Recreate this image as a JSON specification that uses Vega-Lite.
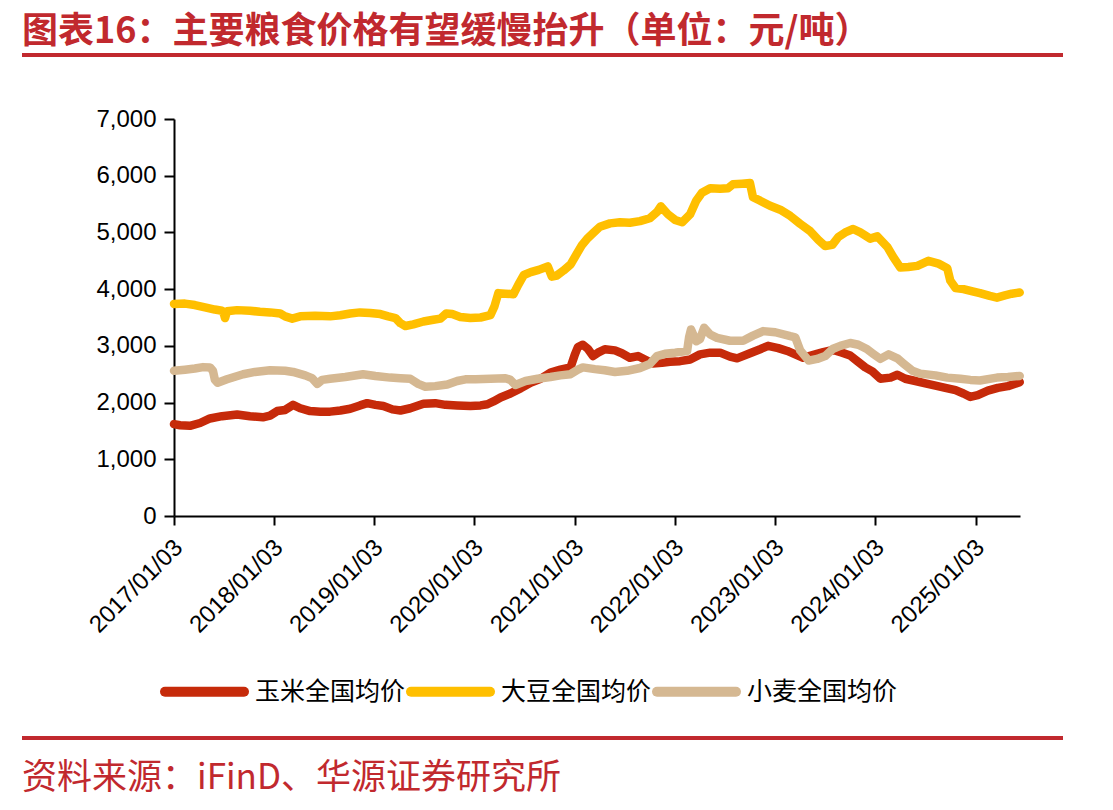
{
  "$schema": "https://vega.github.io/schema/vega-lite/v6.json",
  "background": "white",
  "padding": {"left": 22, "top": 14, "right": 50, "bottom": 14},
  "autosize": {"type": "pad"},
  "config": {
    "view": {"stroke": null},
    "font": "Liberation Sans",
    "axis": {"grid": false, "domainColor": "black", "domainWidth": 2, "tickColor": "black", "tickWidth": 2, "labelColor": "black", "labelFont": "Liberation Sans", "labelFontSize": 24, "title": null}
  },
  "spacing": 50,
  "vconcat": [
    {
      "width": 1041,
      "height": 4,
      "view": {"fill": "#C1292E", "stroke": null},
      "title": {"text": "图表16：主要粮食价格有望缓慢抬升（单位：元/吨）", "orient": "top", "anchor": "start", "frame": "group", "baseline": "bottom", "offset": -34, "font": "Noto Sans CJK SC", "fontSize": 36, "fontWeight": "bold", "color": "#C1292E"},
      "data": {"values": []},
      "mark": "point",
      "encoding": {}
    },
    {
      "spacing": 17,
      "vconcat": [
        {
          "hconcat": [
            {"width": 152, "height": 600, "data": {"values": []}, "mark": "point", "encoding": {}},
            {
              "width": 846,
              "height": 397,
              "data": {"values": [
                {"series": "玉米全国均价", "date": "2017-01-03", "price": 1620},
                {"series": "玉米全国均价", "date": "2017-01-25", "price": 1600},
                {"series": "玉米全国均价", "date": "2017-03-02", "price": 1590},
                {"series": "玉米全国均价", "date": "2017-04-08", "price": 1640},
                {"series": "玉米全国均价", "date": "2017-05-14", "price": 1720},
                {"series": "玉米全国均价", "date": "2017-06-27", "price": 1760},
                {"series": "玉米全国均价", "date": "2017-08-21", "price": 1790},
                {"series": "玉米全国均价", "date": "2017-10-07", "price": 1760},
                {"series": "玉米全国均价", "date": "2017-11-23", "price": 1740},
                {"series": "玉米全国均价", "date": "2017-12-19", "price": 1770},
                {"series": "玉米全国均价", "date": "2018-01-14", "price": 1850},
                {"series": "玉米全国均价", "date": "2018-02-12", "price": 1870},
                {"series": "玉米全国均价", "date": "2018-03-13", "price": 1960},
                {"series": "玉米全国均价", "date": "2018-04-08", "price": 1900},
                {"series": "玉米全国均价", "date": "2018-05-14", "price": 1850},
                {"series": "玉米全国均价", "date": "2018-06-20", "price": 1840},
                {"series": "玉米全国均价", "date": "2018-07-26", "price": 1840},
                {"series": "玉米全国均价", "date": "2018-09-01", "price": 1860},
                {"series": "玉米全国均价", "date": "2018-10-07", "price": 1890},
                {"series": "玉米全国均价", "date": "2018-11-12", "price": 1950},
                {"series": "玉米全国均价", "date": "2018-12-08", "price": 1990},
                {"series": "玉米全国均价", "date": "2019-01-07", "price": 1960},
                {"series": "玉米全国均价", "date": "2019-02-05", "price": 1940},
                {"series": "玉米全国均价", "date": "2019-03-10", "price": 1880},
                {"series": "玉米全国均价", "date": "2019-04-08", "price": 1860},
                {"series": "玉米全国均价", "date": "2019-05-14", "price": 1900},
                {"series": "玉米全国均价", "date": "2019-07-01", "price": 1980},
                {"series": "玉米全国均价", "date": "2019-08-13", "price": 1990},
                {"series": "玉米全国均价", "date": "2019-09-19", "price": 1960},
                {"series": "玉米全国均价", "date": "2019-11-01", "price": 1950},
                {"series": "玉米全国均价", "date": "2019-12-19", "price": 1940},
                {"series": "玉米全国均价", "date": "2020-01-25", "price": 1950},
                {"series": "玉米全国均价", "date": "2020-02-19", "price": 1970},
                {"series": "玉米全国均价", "date": "2020-03-12", "price": 2020},
                {"series": "玉米全国均价", "date": "2020-04-07", "price": 2090},
                {"series": "玉米全国均价", "date": "2020-05-13", "price": 2160},
                {"series": "玉米全国均价", "date": "2020-06-19", "price": 2250},
                {"series": "玉米全国均价", "date": "2020-07-25", "price": 2350},
                {"series": "玉米全国均价", "date": "2020-08-31", "price": 2420},
                {"series": "玉米全国均价", "date": "2020-10-06", "price": 2530},
                {"series": "玉米全国均价", "date": "2020-11-11", "price": 2580},
                {"series": "玉米全国均价", "date": "2020-12-18", "price": 2620},
                {"series": "玉米全国均价", "date": "2021-01-03", "price": 2850},
                {"series": "玉米全国均价", "date": "2021-01-14", "price": 2980},
                {"series": "玉米全国均价", "date": "2021-02-01", "price": 3020},
                {"series": "玉米全国均价", "date": "2021-02-19", "price": 2950},
                {"series": "玉米全国均价", "date": "2021-03-10", "price": 2820},
                {"series": "玉米全国均价", "date": "2021-03-28", "price": 2880},
                {"series": "玉米全国均价", "date": "2021-04-22", "price": 2940},
                {"series": "玉米全国均价", "date": "2021-05-29", "price": 2920},
                {"series": "玉米全国均价", "date": "2021-06-23", "price": 2870},
                {"series": "玉米全国均价", "date": "2021-07-22", "price": 2790},
                {"series": "玉米全国均价", "date": "2021-08-21", "price": 2820},
                {"series": "玉米全国均价", "date": "2021-09-15", "price": 2760},
                {"series": "玉米全国均价", "date": "2021-10-14", "price": 2690},
                {"series": "玉米全国均价", "date": "2021-11-16", "price": 2700},
                {"series": "玉米全国均价", "date": "2021-12-15", "price": 2720},
                {"series": "玉米全国均价", "date": "2022-01-21", "price": 2730},
                {"series": "玉米全国均价", "date": "2022-02-27", "price": 2760},
                {"series": "玉米全国均价", "date": "2022-04-04", "price": 2850},
                {"series": "玉米全国均价", "date": "2022-05-11", "price": 2880},
                {"series": "玉米全国均价", "date": "2022-06-16", "price": 2880},
                {"series": "玉米全国均价", "date": "2022-07-22", "price": 2810},
                {"series": "玉米全国均价", "date": "2022-08-17", "price": 2780},
                {"series": "玉米全国均价", "date": "2022-10-03", "price": 2870},
                {"series": "玉米全国均价", "date": "2022-11-09", "price": 2940},
                {"series": "玉米全国均价", "date": "2022-12-08", "price": 3000},
                {"series": "玉米全国均价", "date": "2023-01-14", "price": 2960},
                {"series": "玉米全国均价", "date": "2023-02-16", "price": 2910},
                {"series": "玉米全国均价", "date": "2023-03-17", "price": 2850},
                {"series": "玉米全国均价", "date": "2023-04-15", "price": 2790},
                {"series": "玉米全国均价", "date": "2023-05-22", "price": 2840},
                {"series": "玉米全国均价", "date": "2023-06-27", "price": 2890},
                {"series": "玉米全国均价", "date": "2023-08-02", "price": 2930},
                {"series": "玉米全国均价", "date": "2023-09-04", "price": 2880},
                {"series": "玉米全国均价", "date": "2023-10-03", "price": 2830},
                {"series": "玉米全国均价", "date": "2023-10-29", "price": 2730},
                {"series": "玉米全国均价", "date": "2023-11-27", "price": 2620},
                {"series": "玉米全国均价", "date": "2023-12-23", "price": 2550},
                {"series": "玉米全国均价", "date": "2024-01-21", "price": 2420},
                {"series": "玉米全国均价", "date": "2024-02-27", "price": 2440},
                {"series": "玉米全国均价", "date": "2024-03-23", "price": 2490},
                {"series": "玉米全国均价", "date": "2024-04-21", "price": 2420},
                {"series": "玉米全国均价", "date": "2024-05-28", "price": 2380},
                {"series": "玉米全国均价", "date": "2024-07-03", "price": 2340},
                {"series": "玉米全国均价", "date": "2024-08-09", "price": 2300},
                {"series": "玉米全国均价", "date": "2024-09-14", "price": 2260},
                {"series": "玉米全国均价", "date": "2024-10-21", "price": 2220},
                {"series": "玉米全国均价", "date": "2024-11-19", "price": 2160},
                {"series": "玉米全国均价", "date": "2024-12-14", "price": 2100},
                {"series": "玉米全国均价", "date": "2025-01-10", "price": 2130},
                {"series": "玉米全国均价", "date": "2025-02-16", "price": 2210},
                {"series": "玉米全国均价", "date": "2025-03-24", "price": 2260},
                {"series": "玉米全国均价", "date": "2025-04-30", "price": 2290},
                {"series": "玉米全国均价", "date": "2025-06-12", "price": 2360},
                {"series": "大豆全国均价", "date": "2017-01-03", "price": 3740},
                {"series": "大豆全国均价", "date": "2017-02-12", "price": 3745},
                {"series": "大豆全国均价", "date": "2017-03-20", "price": 3720},
                {"series": "大豆全国均价", "date": "2017-04-26", "price": 3680},
                {"series": "大豆全国均价", "date": "2017-06-01", "price": 3640},
                {"series": "大豆全国均价", "date": "2017-06-27", "price": 3620},
                {"series": "大豆全国均价", "date": "2017-07-04", "price": 3560},
                {"series": "大豆全国均价", "date": "2017-07-08", "price": 3490},
                {"series": "大豆全国均价", "date": "2017-07-15", "price": 3610},
                {"series": "大豆全国均价", "date": "2017-08-21", "price": 3630},
                {"series": "大豆全国均价", "date": "2017-10-07", "price": 3620},
                {"series": "大豆全国均价", "date": "2017-11-12", "price": 3600},
                {"series": "大豆全国均价", "date": "2017-12-19", "price": 3590},
                {"series": "大豆全国均价", "date": "2018-01-25", "price": 3570},
                {"series": "大豆全国均价", "date": "2018-02-12", "price": 3520},
                {"series": "大豆全国均价", "date": "2018-03-10", "price": 3480},
                {"series": "大豆全国均价", "date": "2018-04-08", "price": 3520},
                {"series": "大豆全国均价", "date": "2018-06-01", "price": 3530},
                {"series": "大豆全国均价", "date": "2018-07-26", "price": 3520},
                {"series": "大豆全国均价", "date": "2018-09-01", "price": 3540},
                {"series": "大豆全国均价", "date": "2018-10-07", "price": 3570},
                {"series": "大豆全国均价", "date": "2018-11-12", "price": 3590},
                {"series": "大豆全国均价", "date": "2018-12-19", "price": 3580},
                {"series": "大豆全国均价", "date": "2019-01-25", "price": 3560},
                {"series": "大豆全国均价", "date": "2019-02-23", "price": 3520},
                {"series": "大豆全国均价", "date": "2019-03-21", "price": 3490},
                {"series": "大豆全国均价", "date": "2019-04-08", "price": 3400},
                {"series": "大豆全国均价", "date": "2019-04-26", "price": 3350},
                {"series": "大豆全国均价", "date": "2019-05-25", "price": 3380},
                {"series": "大豆全国均价", "date": "2019-07-01", "price": 3430},
                {"series": "大豆全国均价", "date": "2019-08-06", "price": 3460},
                {"series": "大豆全国均价", "date": "2019-09-01", "price": 3480},
                {"series": "大豆全国均价", "date": "2019-09-22", "price": 3570},
                {"series": "大豆全国均价", "date": "2019-10-14", "price": 3560},
                {"series": "大豆全国均价", "date": "2019-11-12", "price": 3510},
                {"series": "大豆全国均价", "date": "2019-12-19", "price": 3490},
                {"series": "大豆全国均价", "date": "2020-01-25", "price": 3500},
                {"series": "大豆全国均价", "date": "2020-03-01", "price": 3540},
                {"series": "大豆全国均价", "date": "2020-03-16", "price": 3700},
                {"series": "大豆全国均价", "date": "2020-03-30", "price": 3930},
                {"series": "大豆全国均价", "date": "2020-04-25", "price": 3920},
                {"series": "大豆全国均价", "date": "2020-05-24", "price": 3910},
                {"series": "大豆全国均价", "date": "2020-06-11", "price": 4080},
                {"series": "大豆全国均价", "date": "2020-07-01", "price": 4250},
                {"series": "大豆全国均价", "date": "2020-07-26", "price": 4300},
                {"series": "大豆全国均价", "date": "2020-08-24", "price": 4340},
                {"series": "大豆全国均价", "date": "2020-09-26", "price": 4400},
                {"series": "大豆全国均价", "date": "2020-10-11", "price": 4220},
                {"series": "大豆全国均价", "date": "2020-10-29", "price": 4240},
                {"series": "大豆全国均价", "date": "2020-11-23", "price": 4330},
                {"series": "大豆全国均价", "date": "2020-12-19", "price": 4440},
                {"series": "大豆全国均价", "date": "2021-01-07", "price": 4600},
                {"series": "大豆全国均价", "date": "2021-01-29", "price": 4780},
                {"series": "大豆全国均价", "date": "2021-02-19", "price": 4900},
                {"series": "大豆全国均价", "date": "2021-03-13", "price": 5000},
                {"series": "大豆全国均价", "date": "2021-04-04", "price": 5100},
                {"series": "大豆全国均价", "date": "2021-05-11", "price": 5160},
                {"series": "大豆全国均价", "date": "2021-06-16", "price": 5180},
                {"series": "大豆全国均价", "date": "2021-07-22", "price": 5170},
                {"series": "大豆全国均价", "date": "2021-08-28", "price": 5200},
                {"series": "大豆全国均价", "date": "2021-10-03", "price": 5250},
                {"series": "大豆全国均价", "date": "2021-10-29", "price": 5360},
                {"series": "大豆全国均价", "date": "2021-11-12", "price": 5460},
                {"series": "大豆全国均价", "date": "2021-12-08", "price": 5320},
                {"series": "大豆全国均价", "date": "2022-01-03", "price": 5220},
                {"series": "大豆全国均价", "date": "2022-01-29", "price": 5180},
                {"series": "大豆全国均价", "date": "2022-02-27", "price": 5320},
                {"series": "大豆全国均价", "date": "2022-03-21", "price": 5560},
                {"series": "大豆全国均价", "date": "2022-04-11", "price": 5700},
                {"series": "大豆全国均价", "date": "2022-05-11", "price": 5780},
                {"series": "大豆全国均价", "date": "2022-06-16", "price": 5770},
                {"series": "大豆全国均价", "date": "2022-07-15", "price": 5780},
                {"series": "大豆全国均价", "date": "2022-08-02", "price": 5850},
                {"series": "大豆全国均价", "date": "2022-09-04", "price": 5860},
                {"series": "大豆全国均价", "date": "2022-10-03", "price": 5870},
                {"series": "大豆全国均价", "date": "2022-10-14", "price": 5620},
                {"series": "大豆全国均价", "date": "2022-11-09", "price": 5560},
                {"series": "大豆全国均价", "date": "2022-12-15", "price": 5470},
                {"series": "大豆全国均价", "date": "2023-01-21", "price": 5400},
                {"series": "大豆全国均价", "date": "2023-02-27", "price": 5290},
                {"series": "大豆全国均价", "date": "2023-04-04", "price": 5150},
                {"series": "大豆全国均价", "date": "2023-05-11", "price": 5020},
                {"series": "大豆全国均价", "date": "2023-06-09", "price": 4870},
                {"series": "大豆全国均价", "date": "2023-07-04", "price": 4760},
                {"series": "大豆全国均价", "date": "2023-07-30", "price": 4780},
                {"series": "大豆全国均价", "date": "2023-08-21", "price": 4920},
                {"series": "大豆全国均价", "date": "2023-09-15", "price": 5000},
                {"series": "大豆全国均价", "date": "2023-10-14", "price": 5060},
                {"series": "大豆全国均价", "date": "2023-11-09", "price": 5000},
                {"series": "大豆全国均价", "date": "2023-12-15", "price": 4890},
                {"series": "大豆全国均价", "date": "2024-01-10", "price": 4930},
                {"series": "大豆全国均价", "date": "2024-02-16", "price": 4740},
                {"series": "大豆全国均价", "date": "2024-03-09", "price": 4560},
                {"series": "大豆全国均价", "date": "2024-04-03", "price": 4380},
                {"series": "大豆全国均价", "date": "2024-05-02", "price": 4390},
                {"series": "大豆全国均价", "date": "2024-06-04", "price": 4410},
                {"series": "大豆全国均价", "date": "2024-07-14", "price": 4500},
                {"series": "大豆全国均价", "date": "2024-08-20", "price": 4450},
                {"series": "大豆全国均价", "date": "2024-09-21", "price": 4370},
                {"series": "大豆全国均价", "date": "2024-10-02", "price": 4150},
                {"series": "大豆全国均价", "date": "2024-10-21", "price": 4020},
                {"series": "大豆全国均价", "date": "2024-11-19", "price": 4000},
                {"series": "大豆全国均价", "date": "2024-12-22", "price": 3960},
                {"series": "大豆全国均价", "date": "2025-01-18", "price": 3930},
                {"series": "大豆全国均价", "date": "2025-02-23", "price": 3880},
                {"series": "大豆全国均价", "date": "2025-03-21", "price": 3850},
                {"series": "大豆全国均价", "date": "2025-04-19", "price": 3890},
                {"series": "大豆全国均价", "date": "2025-05-14", "price": 3920},
                {"series": "大豆全国均价", "date": "2025-06-12", "price": 3940},
                {"series": "小麦全国均价", "date": "2017-01-03", "price": 2560},
                {"series": "小麦全国均价", "date": "2017-02-12", "price": 2580},
                {"series": "小麦全国均价", "date": "2017-03-20", "price": 2600},
                {"series": "小麦全国均价", "date": "2017-04-19", "price": 2625},
                {"series": "小麦全国均价", "date": "2017-05-14", "price": 2620},
                {"series": "小麦全国均价", "date": "2017-05-25", "price": 2560},
                {"series": "小麦全国均价", "date": "2017-06-01", "price": 2400},
                {"series": "小麦全国均价", "date": "2017-06-11", "price": 2350},
                {"series": "小麦全国均价", "date": "2017-07-15", "price": 2410},
                {"series": "小麦全国均价", "date": "2017-09-12", "price": 2500},
                {"series": "小麦全国均价", "date": "2017-10-25", "price": 2540},
                {"series": "小麦全国均价", "date": "2017-12-19", "price": 2570},
                {"series": "小麦全国均价", "date": "2018-02-12", "price": 2560},
                {"series": "小麦全国均价", "date": "2018-03-13", "price": 2540},
                {"series": "小麦全国均价", "date": "2018-04-26", "price": 2480},
                {"series": "小麦全国均价", "date": "2018-05-21", "price": 2430},
                {"series": "小麦全国均价", "date": "2018-06-09", "price": 2330},
                {"series": "小麦全国均价", "date": "2018-06-27", "price": 2400},
                {"series": "小麦全国均价", "date": "2018-07-26", "price": 2420},
                {"series": "小麦全国均价", "date": "2018-09-19", "price": 2450},
                {"series": "小麦全国均价", "date": "2018-11-23", "price": 2500},
                {"series": "小麦全国均价", "date": "2019-01-07", "price": 2470},
                {"series": "小麦全国均价", "date": "2019-03-02", "price": 2440},
                {"series": "小麦全国均价", "date": "2019-04-08", "price": 2430},
                {"series": "小麦全国均价", "date": "2019-05-14", "price": 2420},
                {"series": "小麦全国均价", "date": "2019-06-12", "price": 2330},
                {"series": "小麦全国均价", "date": "2019-07-08", "price": 2280},
                {"series": "小麦全国均价", "date": "2019-08-13", "price": 2290},
                {"series": "小麦全国均价", "date": "2019-09-26", "price": 2320},
                {"series": "小麦全国均价", "date": "2019-11-01", "price": 2380},
                {"series": "小麦全国均价", "date": "2019-12-01", "price": 2410},
                {"series": "小麦全国均价", "date": "2020-01-07", "price": 2410},
                {"series": "小麦全国均价", "date": "2020-03-01", "price": 2420},
                {"series": "小麦全国均价", "date": "2020-04-25", "price": 2430},
                {"series": "小麦全国均价", "date": "2020-05-13", "price": 2400},
                {"series": "小麦全国均价", "date": "2020-05-31", "price": 2310},
                {"series": "小麦全国均价", "date": "2020-07-07", "price": 2380},
                {"series": "小麦全国均价", "date": "2020-08-20", "price": 2420},
                {"series": "小麦全国均价", "date": "2020-10-06", "price": 2450},
                {"series": "小麦全国均价", "date": "2020-11-11", "price": 2480},
                {"series": "小麦全国均价", "date": "2020-12-18", "price": 2500},
                {"series": "小麦全国均价", "date": "2021-01-14", "price": 2580},
                {"series": "小麦全国均价", "date": "2021-02-01", "price": 2620},
                {"series": "小麦全国均价", "date": "2021-03-17", "price": 2590},
                {"series": "小麦全国均价", "date": "2021-04-22", "price": 2570},
                {"series": "小麦全国均价", "date": "2021-05-29", "price": 2540},
                {"series": "小麦全国均价", "date": "2021-07-12", "price": 2560},
                {"series": "小麦全国均价", "date": "2021-08-28", "price": 2610},
                {"series": "小麦全国均价", "date": "2021-10-03", "price": 2680},
                {"series": "小麦全国均价", "date": "2021-10-29", "price": 2820},
                {"series": "小麦全国均价", "date": "2021-11-27", "price": 2860},
                {"series": "小麦全国均价", "date": "2022-01-03", "price": 2880},
                {"series": "小麦全国均价", "date": "2022-02-16", "price": 2910},
                {"series": "小麦全国均价", "date": "2022-02-23", "price": 3150},
                {"series": "小麦全国均价", "date": "2022-03-02", "price": 3290},
                {"series": "小麦全国均价", "date": "2022-03-21", "price": 3080},
                {"series": "小麦全国均价", "date": "2022-04-04", "price": 3120},
                {"series": "小麦全国均价", "date": "2022-04-19", "price": 3320},
                {"series": "小麦全国均价", "date": "2022-05-11", "price": 3200},
                {"series": "小麦全国均价", "date": "2022-06-05", "price": 3140},
                {"series": "小麦全国均价", "date": "2022-07-22", "price": 3090},
                {"series": "小麦全国均价", "date": "2022-09-08", "price": 3090},
                {"series": "小麦全国均价", "date": "2022-10-14", "price": 3180},
                {"series": "小麦全国均价", "date": "2022-11-20", "price": 3260},
                {"series": "小麦全国均价", "date": "2023-01-03", "price": 3240},
                {"series": "小麦全国均价", "date": "2023-02-27", "price": 3170},
                {"series": "小麦全国均价", "date": "2023-03-17", "price": 3150},
                {"series": "小麦全国均价", "date": "2023-04-04", "price": 2920},
                {"series": "小麦全国均价", "date": "2023-05-05", "price": 2740},
                {"series": "小麦全国均价", "date": "2023-06-05", "price": 2770},
                {"series": "小麦全国均价", "date": "2023-07-04", "price": 2820},
                {"series": "小麦全国均价", "date": "2023-08-02", "price": 2950},
                {"series": "小麦全国均价", "date": "2023-08-28", "price": 3000},
                {"series": "小麦全国均价", "date": "2023-10-03", "price": 3050},
                {"series": "小麦全国均价", "date": "2023-11-02", "price": 3020},
                {"series": "小麦全国均价", "date": "2023-12-01", "price": 2950},
                {"series": "小麦全国均价", "date": "2023-12-26", "price": 2860},
                {"series": "小麦全国均价", "date": "2024-01-21", "price": 2770},
                {"series": "小麦全国均价", "date": "2024-02-20", "price": 2850},
                {"series": "小麦全国均价", "date": "2024-03-23", "price": 2780},
                {"series": "小麦全国均价", "date": "2024-04-14", "price": 2690},
                {"series": "小麦全国均价", "date": "2024-05-17", "price": 2560},
                {"series": "小麦全国均价", "date": "2024-06-15", "price": 2510},
                {"series": "小麦全国均价", "date": "2024-08-09", "price": 2480},
                {"series": "小麦全国均价", "date": "2024-09-21", "price": 2440},
                {"series": "小麦全国均价", "date": "2024-11-08", "price": 2420},
                {"series": "小麦全国均价", "date": "2024-12-14", "price": 2400},
                {"series": "小麦全国均价", "date": "2025-01-18", "price": 2390},
                {"series": "小麦全国均价", "date": "2025-03-21", "price": 2440},
                {"series": "小麦全国均价", "date": "2025-04-30", "price": 2450},
                {"series": "小麦全国均价", "date": "2025-06-12", "price": 2470}
              ]},
              "mark": {"type": "line", "strokeWidth": 8.5, "strokeCap": "round", "strokeJoin": "round"},
              "encoding": {
                "x": {
                  "field": "date",
                  "type": "temporal",
                  "scale": {"type": "utc", "domain": [{"year": 2017, "month": 1, "date": 3, "utc": true}, {"year": 2025, "month": 6, "date": 13, "utc": true}]},
                  "axis": {
                    "values": [
                      {"year": 2017, "month": 1, "date": 3, "utc": true},
                      {"year": 2018, "month": 1, "date": 3, "utc": true},
                      {"year": 2019, "month": 1, "date": 3, "utc": true},
                      {"year": 2020, "month": 1, "date": 3, "utc": true},
                      {"year": 2021, "month": 1, "date": 3, "utc": true},
                      {"year": 2022, "month": 1, "date": 3, "utc": true},
                      {"year": 2023, "month": 1, "date": 3, "utc": true},
                      {"year": 2024, "month": 1, "date": 3, "utc": true},
                      {"year": 2025, "month": 1, "date": 3, "utc": true}
                    ],
                    "format": "%Y/%m/%d",
                    "labelAngle": -45,
                    "labelAlign": "right",
                    "labelBaseline": "top",
                    "labelPadding": 10,
                    "labelOffset": -4,
                    "labelFlush": false,
                    "labelOverlap": false,
                    "tickSize": 9
                  }
                },
                "y": {
                  "field": "price",
                  "type": "quantitative",
                  "scale": {"domain": [0, 7000], "nice": false},
                  "axis": {"values": [0, 1000, 2000, 3000, 4000, 5000, 6000, 7000], "format": ",.0f", "tickSize": 10, "labelPadding": 8}
                },
                "color": {
                  "field": "series",
                  "type": "nominal",
                  "scale": {"domain": ["玉米全国均价", "大豆全国均价", "小麦全国均价"], "range": ["#C62A0A", "#FFBF00", "#D5B892"]},
                  "legend": {
                    "title": null,
                    "orient": "none",
                    "legendX": 138,
                    "legendY": 594,
                    "direction": "horizontal",
                    "symbolType": "stroke",
                    "symbolSize": 6241,
                    "symbolStrokeWidth": 10,
                    "labelFont": "Noto Sans CJK SC",
                    "labelFontSize": 25,
                    "labelColor": "black",
                    "labelOffset": 6,
                    "columnPadding": -18,
                    "labelLimit": 300,
                    "encode": {"symbols": {"update": {"strokeCap": {"value": "round"}}}}
                  }
                }
              }
            }
          ],
          "spacing": 0,
          "bounds": "flush"
        },
        {
          "width": 1041,
          "height": 4,
          "view": {"fill": "#C1292E", "stroke": null},
          "title": {"text": "资料来源：iFinD、华源证券研究所", "orient": "bottom", "anchor": "start", "frame": "group", "baseline": "top", "offset": 21, "font": "Noto Sans CJK SC", "fontSize": 35, "fontWeight": "normal", "color": "#C1292E"},
          "data": {"values": []},
          "mark": "point",
          "encoding": {}
        }
      ]
    }
  ]
}
